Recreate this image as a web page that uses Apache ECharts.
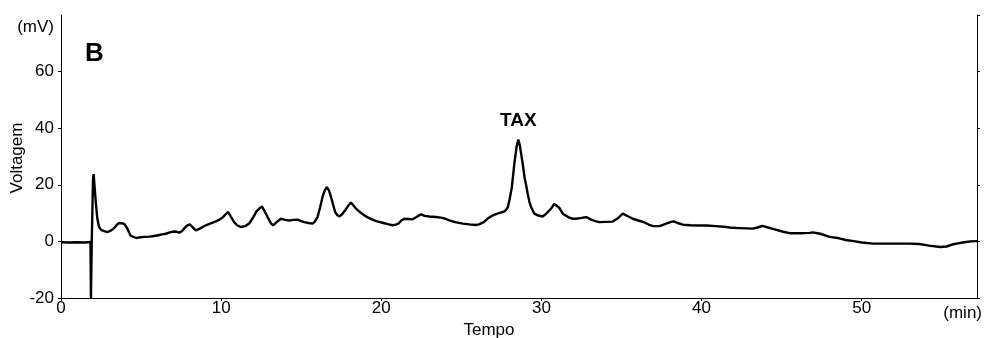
<!DOCTYPE html>
<html>
<head>
<meta charset="utf-8">
<title>Cromatograma B</title>
<script src="https://cdn.jsdelivr.net/npm/echarts@6/dist/echarts.min.js"></script>
<style>
  html, body { margin: 0; padding: 0; background: #fff; }
  #chart { width: 984px; height: 338px; }
</style>
</head>
<body>
<div id="chart"></div>
<script>
// Retention time (min) of each detector reading
const tempo = [
  0, 0.5, 1.0, 1.5, 1.84, 1.87, 1.88, 1.92, 2.0, 2.04, 2.1, 2.17, 2.27, 2.37, 2.5, 2.7, 2.9, 3.1, 3.3, 3.5,
  3.63, 3.8, 3.94, 4.08, 4.2, 4.35, 4.46, 4.7, 4.88, 5.2, 5.5, 5.7, 6.0, 6.3, 6.54, 6.8, 7.06, 7.25, 7.38, 7.55,
  7.69, 7.85, 8.04, 8.2, 8.42, 8.7, 9.04, 9.35, 9.67, 9.9, 10.08, 10.25, 10.44, 10.6, 10.81, 11.0, 11.23, 11.5, 11.75, 12.0,
  12.2, 12.38, 12.54, 12.7, 12.9, 13.1, 13.25, 13.5, 13.73, 14.0, 14.25, 14.5, 14.77, 15.0, 15.19, 15.45, 15.71, 15.85, 16.02, 16.18,
  16.33, 16.47, 16.6, 16.73, 16.86, 17.0, 17.12, 17.25, 17.38, 17.55, 17.75, 17.92, 18.1, 18.25, 18.42, 18.7, 18.94, 19.25, 19.56, 19.8,
  20.08, 20.4, 20.71, 20.9, 21.08, 21.25, 21.44, 21.7, 21.96, 22.2, 22.48, 22.7, 23.0, 23.4, 23.73, 24.0, 24.25, 24.6, 25.1, 25.5,
  25.9, 26.1, 26.4, 26.7, 26.96, 27.3, 27.7, 27.9, 28.0, 28.15, 28.31, 28.45, 28.56, 28.65, 28.83, 28.95, 29.04, 29.14, 29.25, 29.36,
  29.56, 29.77, 30.08, 30.3, 30.6, 30.8, 30.92, 31.1, 31.33, 31.44, 31.7, 31.96, 32.17, 32.5, 32.8, 33.1, 33.42, 33.63, 34.0, 34.46,
  34.8, 35.08, 35.4, 35.71, 36.1, 36.4, 36.75, 36.96, 37.38, 37.79, 38.1, 38.27, 38.5, 38.83, 39.3, 39.8, 40.3, 40.9, 41.54, 41.9,
  42.4, 43.2, 43.55, 43.8, 44.1, 44.67, 45.1, 45.5, 46.2, 46.75, 46.95, 47.4, 48.0, 48.6, 49.0, 49.5, 50.0, 50.7, 51.5, 52.3,
  53.0, 53.6, 54.2, 54.9, 55.3, 55.6, 56.0, 56.4, 56.8, 57.2
];

// Detector signal (mV) at each retention time
const voltagem = [
  -0.3, -0.4, -0.3, -0.4, -0.2, -20, -20, 0, 22, 23.8, 19, 14, 8, 5.2, 4.1, 3.6, 3.3, 3.8, 4.6, 6.0,
  6.5, 6.4, 6.2, 5.2, 3.8, 2.0, 1.3, 1.2, 1.4, 1.6, 1.7, 1.8, 2.1, 2.5, 2.7, 3.2, 3.5, 3.4, 3.1, 3.6,
  4.5, 5.5, 6.0, 5.1, 3.9, 4.6, 5.7, 6.4, 7.1, 7.7, 8.4, 9.4, 10.4, 8.8, 6.8, 5.7, 5.1, 5.4, 6.3, 8.5,
  10.5, 11.6, 12.4, 10.8, 8.6, 6.5, 5.7, 7.0, 8.0, 7.6, 7.4, 7.6, 7.7, 7.2, 6.8, 6.5, 6.3, 7.0, 8.6, 12,
  15.7, 18.0, 19.2, 18.0, 15.7, 12.8, 10.4, 9.3, 8.8, 9.6, 11.0, 12.5, 13.7, 12.8, 11.6, 10.2, 9.2, 8.2, 7.4, 7.0,
  6.6, 6.1, 5.7, 5.9, 6.3, 7.4, 8.0, 7.9, 7.8, 8.6, 9.6, 9.0, 8.8, 8.6, 8.4, 8.0, 7.4, 6.8, 6.3, 6.0,
  5.8, 6.0, 6.8, 8.3, 9.2, 9.9, 10.6, 12, 14.5, 19, 27.5, 33.5, 36.0, 34, 27.5, 22.5, 20.0, 16.9, 14.0, 12.1,
  9.8, 9.2, 8.8, 9.8, 11.6, 13.2, 13.9, 12.0, 9.8, 9.2, 8.5, 8.0, 8.0, 8.3, 8.6, 7.7, 7.1, 6.8, 6.9, 7.0,
  8.3, 9.8, 8.9, 8.0, 7.3, 6.8, 5.8, 5.4, 5.4, 6.3, 6.9, 7.1, 6.5, 5.9, 5.7, 5.6, 5.6, 5.4, 5.1, 4.8,
  4.7, 4.5, 5.0, 5.5, 5.0, 4.1, 3.4, 2.9, 2.9, 3.0, 3.2, 2.7, 1.6, 1.1, 0.5, 0.1, -0.4, -0.8, -0.8, -0.8,
  -0.8, -0.9, -1.5, -2.0, -1.8, -1.2, -0.7, -0.3, 0.0, 0.1
];

// Axis ranges and tick steps
const tempoEixo = { min: 0, max: 57.2, passo: 10 };
const voltEixo = { min: -20, max: 80, passo: 20 };

// Identified peak
const picoNome = 'TAX';
const picoTempo = 28.56;
const picoValor = 36.0;

const serie = tempo.map((t, i) => [t, voltagem[i]]);

const fonte = 'Liberation Sans, Arial, Helvetica, sans-serif';
const preto = '#000';
const tamTexto = 17;

const chart = echarts.init(document.getElementById('chart'), null, { renderer: 'canvas' });

const yComum = {
  type: 'value',
  min: voltEixo.min,
  max: voltEixo.max,
  interval: voltEixo.passo,
  splitLine: { show: false },
  axisLine: { show: true, onZero: false, lineStyle: { color: preto, width: 1 } },
  axisTick: { show: true, inside: false, length: 3, lineStyle: { color: preto } }
};

chart.setOption({
  animation: false,
  backgroundColor: '#fff',
  grid: {
    left: 61, right: 7, top: 15, bottom: 40,
    containLabel: false,
    outerBoundsMode: 'none'
  },
  xAxis: {
    type: 'value',
    min: tempoEixo.min,
    max: tempoEixo.max,
    interval: tempoEixo.passo,
    splitLine: { show: false },
    axisLine: { show: true, onZero: false, lineStyle: { color: preto, width: 1 } },
    axisTick: { show: true, inside: false, length: 3, lineStyle: { color: preto } },
    axisLabel: {
      color: preto, fontFamily: fonte, fontSize: tamTexto, margin: 2,
      showMaxLabel: false, hideOverlap: false
    }
  },
  yAxis: [
    Object.assign({}, yComum, {
      position: 'left',
      axisLabel: {
        color: preto, fontFamily: fonte, fontSize: tamTexto, margin: 7,
        showMaxLabel: false, hideOverlap: false
      }
    }),
    Object.assign({}, yComum, {
      position: 'right',
      axisLabel: { show: false }
    })
  ],
  series: [{
    type: 'line',
    data: serie,
    showSymbol: false,
    symbol: 'none',
    smooth: false,
    clip: true,
    lineStyle: { color: preto, width: 2.4 },
    markPoint: {
      symbol: 'circle',
      symbolSize: 0,
      data: [{ coord: [picoTempo, picoValor], name: picoNome }],
      label: {
        show: true,
        position: 'top',
        distance: 9,
        formatter: picoNome,
        color: preto,
        fontFamily: fonte,
        fontWeight: 'bold',
        fontSize: 19
      }
    }
  }],
  graphic: [
    {
      type: 'text', left: 85, top: 41,
      style: { text: 'B', fill: preto, font: 'bold 26px ' + fonte }
    },
    {
      type: 'text', x: 54, y: 27,
      style: { text: '(mV)', fill: preto, font: tamTexto + 'px ' + fonte, align: 'right', verticalAlign: 'middle' }
    },
    {
      type: 'text', x: 982, y: 313,
      style: { text: '(min)', fill: preto, font: tamTexto + 'px ' + fonte, align: 'right', verticalAlign: 'middle' }
    },
    {
      type: 'text', x: 489, y: 330,
      style: { text: 'Tempo', fill: preto, font: tamTexto + 'px ' + fonte, align: 'center', verticalAlign: 'middle' }
    },
    {
      type: 'text', x: 17, y: 158, rotation: Math.PI / 2,
      style: { text: 'Voltagem', fill: preto, font: tamTexto + 'px ' + fonte, align: 'center', verticalAlign: 'middle' }
    }
  ]
});
</script>
</body>
</html>
